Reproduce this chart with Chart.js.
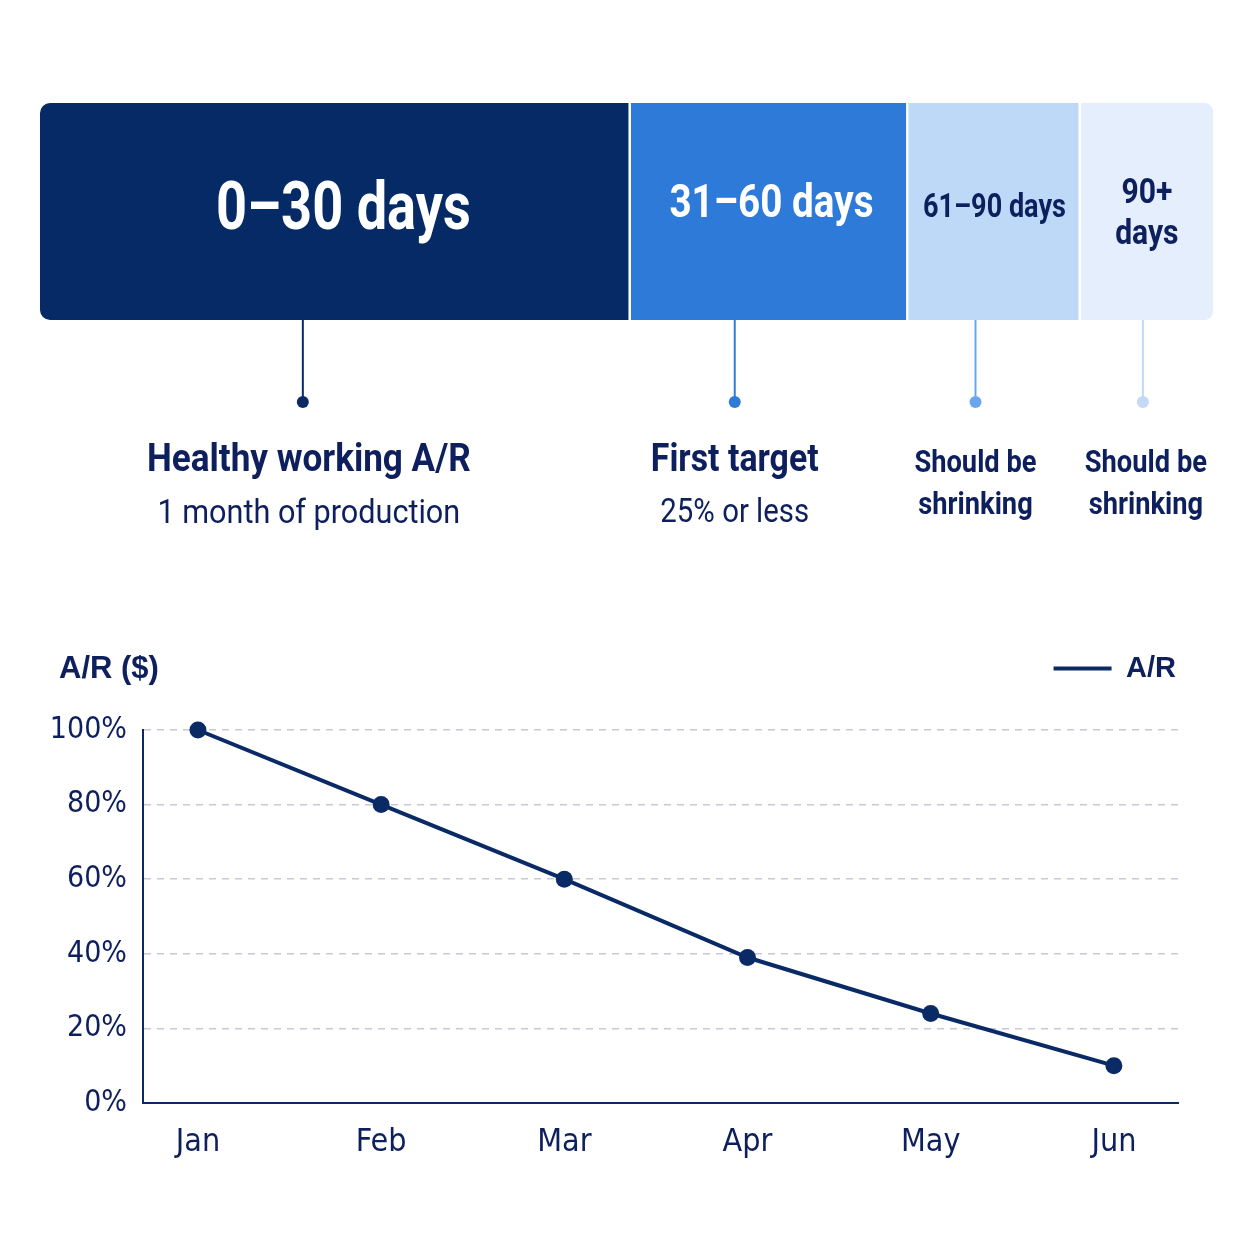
<!DOCTYPE html>
<html>
<head>
<meta charset="utf-8">
<script src="https://cdn.jsdelivr.net/npm/chart.js@4.4.1/dist/chart.umd.min.js"></script>
<style>
html, body { margin: 0; padding: 0; background: #ffffff; }
#wrap { position: relative; width: 1254px; height: 1254px; overflow: hidden; }
#agingBox { position: absolute; left: 0; top: 0; width: 1254px; height: 580px; }
#trendBox { position: absolute; left: 0; top: 620px; width: 1254px; height: 600px; }
</style>
</head>
<body>
<div id="wrap">
  <div id="agingBox"><canvas id="aging"></canvas></div>
  <div id="trendBox"><canvas id="trend"></canvas></div>
</div>
<script>
// aging buckets (share of the bar)
const buckets = ["0–30 days", "31–60 days", "61–90 days", "90+ days"];
const bucketLines = [["0–30 days"], ["31–60 days"], ["61–90 days"], ["90+", "days"]];
const bucketShare = [50, 23.5, 14.6, 11.2];
const bucketNotes = [
    ["Healthy working A/R", "1 month of production"],
    ["First target", "25% or less"],
    ["Should be", "shrinking"],
    ["Should be", "shrinking"]
];

// A/R trend
const months = ["Jan", "Feb", "Mar", "Apr", "May", "Jun"];
const arPercent = [100, 80, 60, 39, 24, 10];
const yTicks = [0, 20, 40, 60, 80, 100];

const navy = "#0a2a66";
const ink = "#0d1f5c";
const narrow = '"DejaVu Sans Condensed", "DejaVu Sans", sans-serif';
const label = 'Roboto, "Noto Sans", sans-serif';
const wide = '"Liberation Sans", Arial, sans-serif';

const bucketColors = ["#062a66", "#2d7ad9", "#bdd9f7", "#e4eefc"];
const noteColors = ["#0a2a66", "#2d7ad9", "#6aa6ee", "#c3d9f6"];
const insideStyle = [
    {size: 66, color: "#ffffff", dx: 8, dy: 1, sx: 0.82},
    {size: 46, color: "#ffffff", dx: 2, dy: -6, sx: 0.84},
    {size: 33, color: ink, dx: 0, dy: -3, sx: 0.82},
    {size: 35, color: ink, dx: 0, dy: 3, sx: 0.86}
];
const noteStyle = [
    {sizes: [39, 34], weights: ["bold", "normal"], dy: [141, 194], sx: 0.9},
    {sizes: [38, 33], weights: ["bold", "normal"], dy: [141, 194], sx: 0.89},
    {sizes: [31, 31], weights: ["bold", "bold"], dy: [144, 186], sx: 0.88},
    {sizes: [31, 31], weights: ["bold", "bold"], dy: [144, 186], sx: 0.88}
];
const anchorAt = [0.445, 0.375, 0.39, 0.47];
const noteShift = [6, 0, 0, 3];

Chart.defaults.font.family = narrow;
Chart.defaults.color = ink;

// centered text squeezed horizontally (condensed look)
function squeezedText(ctx, text, x, y, font, sx) {
    ctx.save();
    ctx.translate(x, y);
    ctx.scale(sx, 1);
    ctx.font = font;
    ctx.fillText(text, 0, 0);
    ctx.restore();
}

const agingLabels = {
    id: "agingLabels",
    afterDatasetsDraw(chart) {
        const ctx = chart.ctx;
        const bottom = chart.chartArea.bottom;
        chart.data.datasets.forEach(function(ds, i) {
            const bar = chart.getDatasetMeta(i).data[0];
            const left = Math.min(bar.base, bar.x);
            const right = Math.max(bar.base, bar.x);
            const cx = (left + right) / 2;
            const st = insideStyle[i];
            const lines = bucketLines[i];
            ctx.save();
            ctx.textAlign = "center";
            ctx.textBaseline = "middle";
            ctx.fillStyle = st.color;
            lines.forEach(function(t, k) {
                squeezedText(ctx, t, cx + st.dx, bar.y + st.dy + (k - (lines.length - 1) / 2) * st.size * 1.18,
                    "bold " + st.size + "px " + label, st.sx);
            });

            // connector + dot
            const ax = left + (right - left) * anchorAt[i];
            ctx.strokeStyle = noteColors[i];
            ctx.lineWidth = 2;
            ctx.beginPath();
            ctx.moveTo(ax, bottom);
            ctx.lineTo(ax, bottom + 82);
            ctx.stroke();
            ctx.fillStyle = noteColors[i];
            ctx.beginPath();
            ctx.arc(ax, bottom + 82, 6, 0, Math.PI * 2);
            ctx.fill();

            const ns = noteStyle[i];
            ctx.fillStyle = ink;
            bucketNotes[i].forEach(function(t, k) {
                squeezedText(ctx, t, ax + noteShift[i], bottom + ns.dy[k],
                    ns.weights[k] + " " + ns.sizes[k] + "px " + label, ns.sx);
            });
            ctx.restore();
        });
    }
};

new Chart(document.getElementById("aging"), {
    type: "bar",
    data: {
        labels: ["A/R"],
        datasets: buckets.map(function(name, i) {
            return {
                label: name,
                data: [bucketShare[i]],
                backgroundColor: bucketColors[i],
                borderColor: "#ffffff",
                borderWidth: i < buckets.length - 1 ? {top: 0, right: 2.5, bottom: 0, left: 0} : 0,
                borderSkipped: false,
                borderRadius: i === 0 ? {topLeft: 10, bottomLeft: 10}
                    : (i === buckets.length - 1 ? {topRight: 10, bottomRight: 10} : 0),
                barPercentage: 1,
                categoryPercentage: 1
            };
        })
    },
    options: {
        indexAxis: "y",
        animation: false,
        responsive: true,
        maintainAspectRatio: false,
        layout: {padding: {left: 40, right: 41, top: 103, bottom: 260}},
        plugins: {
            legend: {display: false},
            tooltip: {enabled: false}
        },
        scales: {
            x: {stacked: true, display: false, min: 0, max: bucketShare.reduce(function(a, b) { return a + b; }, 0)},
            y: {stacked: true, display: false}
        }
    },
    plugins: [agingLabels]
});

// extra room under the legend
const legendGap = {
    id: "legendGap",
    beforeUpdate(chart) {
        const legend = chart.legend;
        if (legend && !legend._gapPatched) {
            const fit = legend.fit;
            legend.fit = function() {
                fit.call(this);
                this.height += 37;
            };
            legend._gapPatched = true;
        }
    }
};

const axisTitle = {
    id: "axisTitle",
    afterDraw(chart) {
        const ctx = chart.ctx;
        ctx.save();
        ctx.fillStyle = ink;
        ctx.font = "bold 31px " + wide;
        ctx.textAlign = "left";
        ctx.textBaseline = "middle";
        ctx.fillText("A/R ($)", 59, 49);
        ctx.restore();
    }
};

new Chart(document.getElementById("trend"), {
    type: "line",
    data: {
        datasets: [{
            label: "A/R",
            data: arPercent.map(function(v, i) { return {x: i, y: v}; }),
            borderColor: navy,
            backgroundColor: navy,
            borderWidth: 4,
            pointRadius: 8.5,
            pointBackgroundColor: navy,
            pointBorderWidth: 0,
            tension: 0,
            clip: false
        }]
    },
    options: {
        animation: false,
        responsive: true,
        maintainAspectRatio: false,
        layout: {padding: {top: 32, right: 76, bottom: 0, left: 0}},
        plugins: {
            legend: {
                position: "top",
                align: "end",
                labels: {
                    boxWidth: 58,
                    boxHeight: 4,
                    padding: 2,
                    color: ink,
                    font: {family: wide, size: 29, weight: "bold"},
                    generateLabels: function(chart) {
                        const items = Chart.defaults.plugins.legend.labels.generateLabels(chart);
                        items.forEach(function(it) {
                            it.lineWidth = 0;
                            it.fillStyle = navy;
                        });
                        return items;
                    }
                }
            },
            tooltip: {enabled: false}
        },
        scales: {
            x: {
                type: "linear",
                min: -0.3,
                max: 5.35,
                afterBuildTicks: function(s) { s.ticks = months.map(function(m, i) { return {value: i}; }); },
                afterFit: function(s) { s.height = 117; },
                ticks: {
                    callback: function(v) { return months[v]; },
                    color: ink,
                    font: {size: 32},
                    padding: 20
                },
                grid: {display: false, drawTicks: false},
                border: {color: navy, width: 2}
            },
            y: {
                min: 0,
                max: 100,
                afterBuildTicks: function(s) { s.ticks = yTicks.map(function(v) { return {value: v}; }); },
                afterFit: function(s) { s.width = 143; },
                ticks: {
                    callback: function(v) { return v + "%"; },
                    color: ink,
                    font: {size: 30},
                    padding: 16
                },
                grid: {color: "#c6c9dc", lineWidth: 1.5, drawTicks: false},
                border: {color: navy, width: 2, dash: [7, 6]}
            }
        }
    },
    plugins: [legendGap, axisTitle]
});
</script>
</body>
</html>
